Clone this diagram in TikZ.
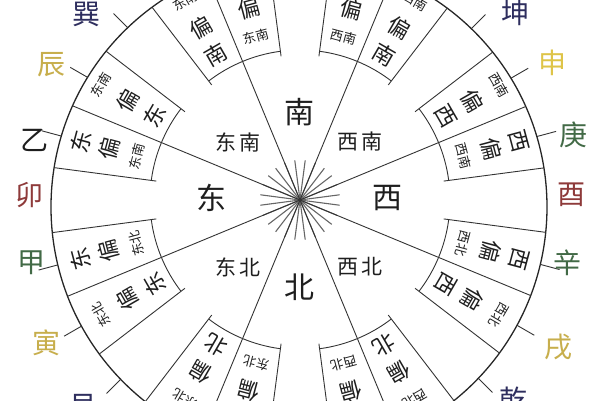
\documentclass[tikz,border=0pt]{standalone}
\usepackage{fontspec}
\usepackage{xcolor}
\usepackage{tikz}
\usetikzlibrary{calc}
\newfontfamily\cjk{Noto Sans CJK SC}

\definecolor{navyink}{HTML}{2E2E5E}
\definecolor{goldink}{HTML}{C7AE4C}
\definecolor{yellowink}{HTML}{DEC448}
\definecolor{greenink}{HTML}{426A46}
\definecolor{redink}{HTML}{8E3A3A}
\definecolor{blackink}{HTML}{1E1E1E}

\begin{document}
\begin{tikzpicture}[x=1pt, y=1pt,
  dirbig/.style={font=\cjk\fontsize{30}{30}\selectfont, inner sep=0pt, text=blackink},
  dirmid/.style={font=\cjk\fontsize{21}{21}\selectfont, inner sep=0pt, text=blackink},
  boxbig/.style={font=\cjk\fontsize{22}{22}\selectfont, inner sep=0pt, text=blackink},
  boxsmall/.style={font=\cjk\fontsize{13}{13}\selectfont, inner sep=0pt, text=blackink},
  mountain/.style={font=\cjk\fontsize{28}{28}\selectfont, inner sep=0pt},
  rim/.style={line width=1.3pt, black!85},
  boxline/.style={line width=0.9pt, black!80},
  spoke/.style={line width=1.1pt, black!60}
]

% === Parameters ===
\pgfmathsetmacro{\rout}{248}   % outer circle
\pgfmathsetmacro{\rin}{150}    % inner edge of the boxes
\pgfmathsetmacro{\rstar}{40}   % star at the centre
\pgfmathsetmacro{\ticklen}{20} % ticks towards the 24 mountains

% === Coordinates ===
\coordinate (O) at (0,0);
\coordinate (C) at (-1,-7);    % the rim is a little off centre

% === Drawing region ===
\clip (-300,-200) rectangle (300,200);

% === Drawings ===
% Outer circle
\draw[rim] (C) circle (\rout);

% Star in the middle
\foreach \a in {7.5,22.5,...,352.5}
  \draw[spoke] (O) -- (\a:\rstar);

% Main lines and boxes (cut at the rim)
\begin{scope}
  \clip (C) circle (\rout);
  \foreach \a in {22.5,67.5,...,337.5} {
    \draw[boxline] (O) -- (\a:300);
    \draw[boxline] ({\a-15}:145) -- ({\a-15}:300);
    \draw[boxline] ({\a+15}:145) -- ({\a+15}:300);
    \draw[boxline] ({\a-15}:\rin) arc[start angle={\a-15}, end angle={\a+15}, radius=\rin];
  }
\end{scope}

% Eight directions
\node[dirbig] (nan) at (0,88) {南};
\node[dirbig] (dong) at (-88,2) {东};
\node[dirbig] (xi) at (88,2) {西};
\node[dirbig] (bei) at (0,-87) {北};
\node[dirmid] (dongnan) at (-62,58) {东\hspace{3pt}南};
\node[dirmid] (xinan) at (60,58) {西\hspace{3pt}南};
\node[dirmid] (dongbei) at (-62,-67) {东\hspace{3pt}北};
\node[dirmid] (xibei) at (60,-67) {西\hspace{3pt}北};

% Boxes: big character outside, small pair inside
\foreach \p/\d/\n in {15/西/西南, 75/南/西南, 105/南/东南, 165/东/东南,
                      195/东/东北, 255/北/东北, 285/北/西北, 345/西/西北} {
  \node[boxbig, rotate={\p-90}] (bo\p) at (\p:227) {\d};
  \node[boxbig, rotate={\p-90}] (bm\p) at (\p:198) {偏};
  \node[boxsmall, rotate={\p-90}] (bi\p) at (\p:169) {\n};
}
% Boxes: small pair outside, big character inside
\foreach \p/\d/\n in {30/西南/西, 60/西南/南, 120/东南/南, 150/东南/东,
                      210/东北/东, 240/东北/北, 300/西北/北, 330/西北/西} {
  \node[boxsmall, rotate={\p-90}] (bo\p) at (\p:230) {\d};
  \node[boxbig, rotate={\p-90}] (bm\p) at (\p:199) {偏};
  \node[boxbig, rotate={\p-90}] (bi\p) at (\p:168) {\n};
}

% Ticks at the rim
\foreach \a in {15,30,45,135,150,165,195,210,225,315,330,345} {
  \pgfmathsetmacro{\uc}{-0.01*cos(\a)-0.07*sin(\a)}
  \pgfmathsetmacro{\ts}{100*(\uc+sqrt(\uc*\uc-0.005+(\rout/100)^2))}
  \coordinate (ts\a) at (\a:\ts);
  \coordinate (te\a) at (\a:{\ts+\ticklen});
  \draw[boxline] (ts\a) -- (te\a);
}

% The mountains outside the rim
\node[mountain, text=navyink] (xun) at (-213,186) {巽};
\node[mountain, text=goldink] (chen) at (-248,135) {辰};
\node[mountain, text=blackink] (yi) at (-265,60) {乙};
\node[mountain, text=redink] (mao) at (-270,5) {卯};
\node[mountain, text=greenink] (jia) at (-268,-63) {甲};
\node[mountain, text=goldink] (yin) at (-253,-143) {寅};
\node[mountain, text=navyink] (gen) at (-216,-207) {艮};
\node[mountain, text=navyink] (kun) at (215,187) {坤};
\node[mountain, text=yellowink] (shen) at (252,137) {申};
\node[mountain, text=greenink] (geng) at (273,65) {庚};
\node[mountain, text=redink] (you) at (271,5) {酉};
\node[mountain, text=greenink] (xin) at (267,-63) {辛};
\node[mountain, text=goldink] (xu) at (258,-147) {戌};
\node[mountain, text=navyink] (qian) at (213,-200) {乾};

\end{tikzpicture}
\end{document}
